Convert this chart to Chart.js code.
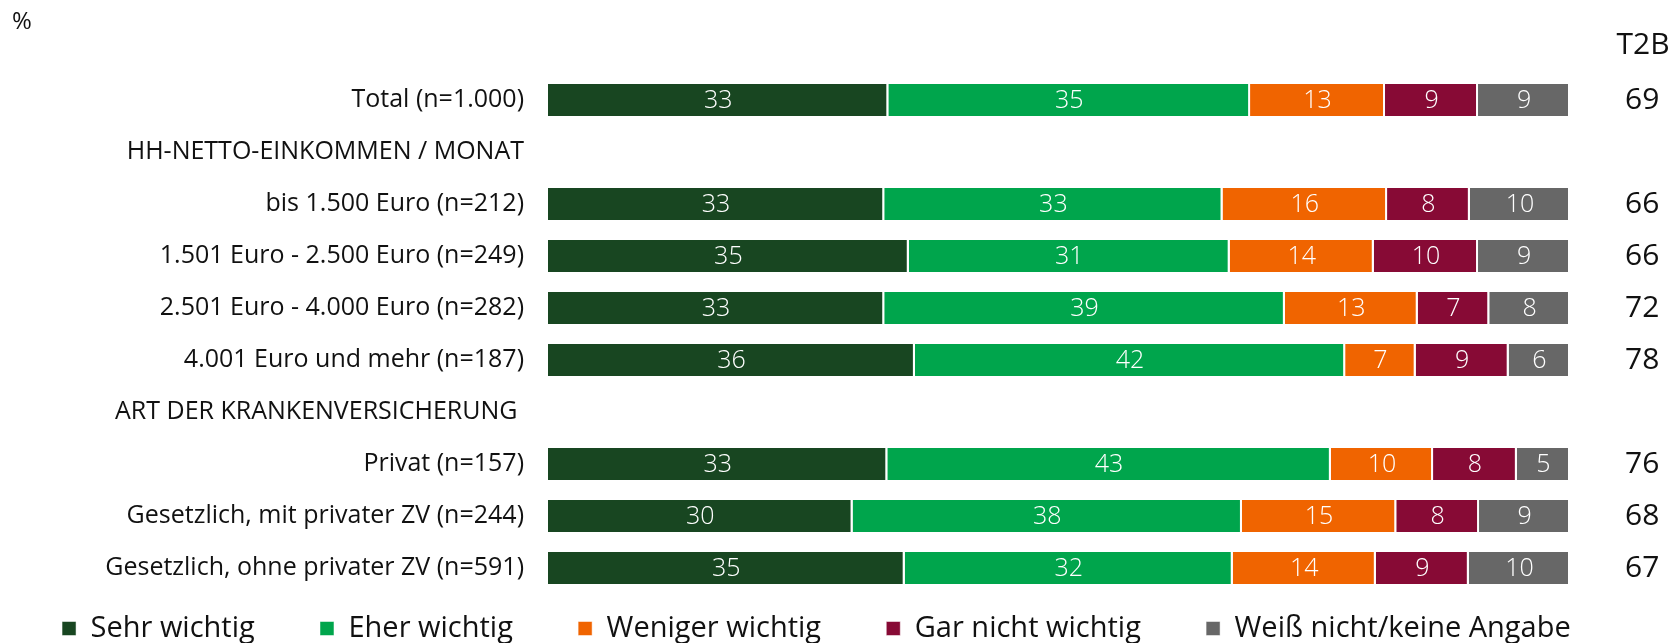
<!DOCTYPE html>
<html>
<head>
<meta charset="utf-8">
<script src="https://cdn.jsdelivr.net/npm/chart.js@4/dist/chart.umd.min.js"></script>
<style>
  html, body { margin: 0; padding: 0; background: #fff; }
  #wrap { width: 1678px; height: 643px; }
</style>
</head>
<body>
<div id="wrap"><canvas id="chart" width="1678" height="643"></canvas></div>
<script>
// data
const categories = [
  'Total (n=1.000)',
  'HH-NETTO-EINKOMMEN / MONAT',
  'bis 1.500 Euro (n=212)',
  '1.501 Euro - 2.500 Euro (n=249)',
  '2.501 Euro - 4.000 Euro (n=282)',
  '4.001 Euro und mehr (n=187)',
  'ART DER KRANKENVERSICHERUNG ',
  'Privat (n=157)',
  'Gesetzlich, mit privater ZV (n=244)',
  'Gesetzlich, ohne privater ZV (n=591)'
];
const seriesNames = ['Sehr wichtig', 'Eher wichtig', 'Weniger wichtig', 'Gar nicht wichtig', 'Weiß nicht/keine Angabe'];
const sehrWichtig    = [33.3, null, 32.9, 35.3, 32.9, 35.9, null, 33.2, 29.8, 34.9];
const eherWichtig    = [35.4, null, 33.1, 31.4, 39.2, 42.1, null, 43.4, 38.1, 32.1];
const wenigerWichtig = [13.2, null, 16.1, 14.1, 13.0, 6.9, null, 10.0, 15.1, 14.0];
const garNicht       = [9.1, null, 8.1, 10.2, 7.0, 9.1, null, 8.2, 8.1, 9.1];
const weissNicht     = [9.0, null, 9.8, 9.0, 7.9, 6.0, null, 5.2, 8.9, 9.9];
const t2b            = [69, null, 66, 66, 72, 78, null, 76, 68, 67];

const colors = ['#184621', '#00a54c', '#f06400', '#870a35', '#676767'];
const FONT = "'Open Sans', sans-serif";

const values = [sehrWichtig, eherWichtig, wenigerWichtig, garNicht, weissNicht];
const datasets = values.map((v, i) => ({
  label: seriesNames[i],
  data: v,
  backgroundColor: colors[i],
  borderColor: '#ffffff',
  borderWidth: { top: 0, bottom: 0, left: 0, right: 2 },
  borderSkipped: false,
  categoryPercentage: 1,
  barPercentage: 0.615
}));

// numbers in the bars + header texts
const extraText = {
  id: 'extraText',
  afterDatasetsDraw(chart) {
    const ctx = chart.ctx;
    ctx.save();
    ctx.textBaseline = 'middle';
    ctx.textAlign = 'center';
    ctx.font = '300 25px ' + FONT;
    ctx.fillStyle = '#fff';
    chart.data.datasets.forEach((ds, di) => {
      const meta = chart.getDatasetMeta(di);
      meta.data.forEach((el, i) => {
        const v = ds.data[i];
        if (v == null) return;
        ctx.fillText(Math.round(v), (el.x + el.base) / 2, el.y + 1);
      });
    });
    ctx.fillStyle = '#111';
    ctx.font = '30px ' + FONT;
    ctx.fillText('T2B', 1643, 45);
    ctx.textAlign = 'left';
    ctx.font = '24px ' + FONT;
    ctx.fillText('%', 12, 22);
    ctx.restore();
  }
};

// axes should not push the chart area inwards
function noVPad(scale) { scale.paddingTop = 0; scale.paddingBottom = 0; }

new Chart(document.getElementById('chart'), {
  type: 'bar',
  data: { labels: categories, datasets },
  options: {
    indexAxis: 'y',
    responsive: false,
    animation: false,
    layout: { padding: { top: 74, bottom: -10, left: 0, right: 0 } },
    scales: {
      x: { stacked: true, min: 0, max: 100, display: false },
      y: {
        stacked: true,
        grid: { display: false, drawTicks: false },
        border: { display: false },
        ticks: { color: '#111', font: { family: FONT, size: 25 }, padding: 24 },
        afterFit(scale) { scale.width = 548; noVPad(scale); }
      },
      t2b: {
        type: 'category',
        position: 'right',
        offset: true,
        labels: t2b.map(v => v == null ? '' : String(v)),
        grid: { display: false, drawTicks: false },
        border: { display: false },
        ticks: { color: '#111', font: { family: FONT, size: 30 }, padding: 55 },
        afterFit(scale) { scale.width = 108; noVPad(scale); }
      }
    },
    plugins: {
      legend: {
        position: 'bottom',
        labels: {
          color: '#111',
          boxWidth: 14,
          boxHeight: 14,
          padding: 20,
          font: { family: FONT, size: 29 },
          generateLabels(chart) {
            const items = Chart.defaults.plugins.legend.labels.generateLabels(chart);
            items.forEach(it => { it.text += '      '; });
            return items;
          }
        }
      },
      tooltip: { enabled: false }
    }
  },
  plugins: [extraText]
});
</script>
</body>
</html>
